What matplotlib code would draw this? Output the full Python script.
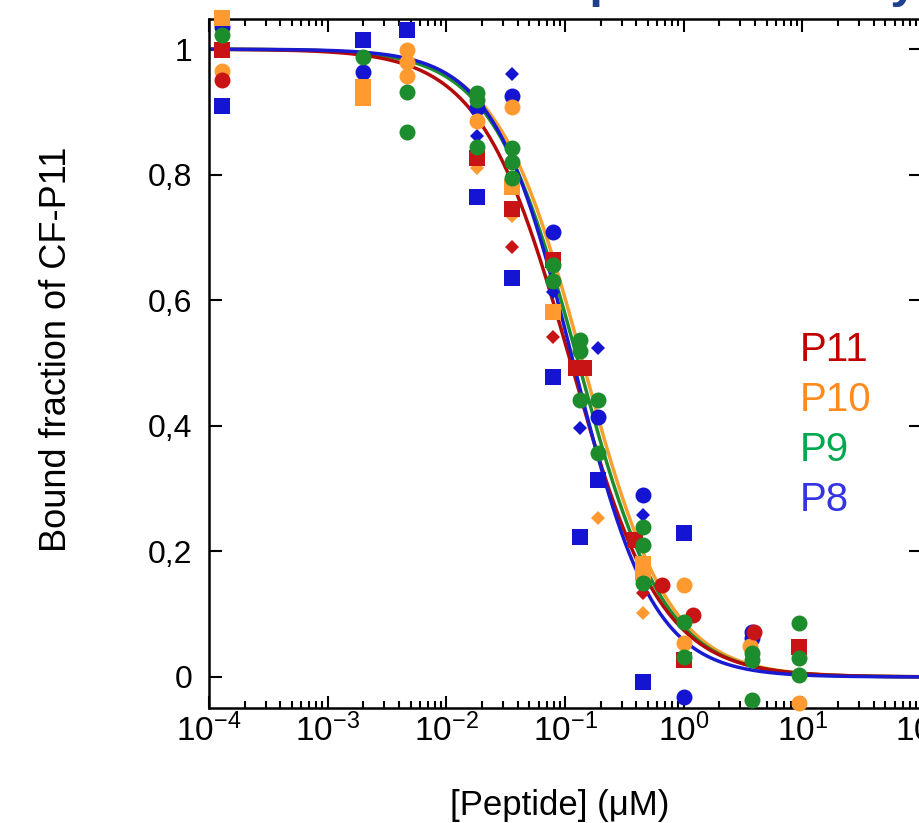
import numpy as np
import matplotlib
matplotlib.use("Agg")
import matplotlib.pyplot as plt
from matplotlib.ticker import FixedLocator, FixedFormatter, LogLocator, NullFormatter

plt.rcParams['font.family'] = ['Liberation Sans', 'DejaVu Sans']
plt.rcParams['mathtext.fontset'] = 'custom'
plt.rcParams['mathtext.rm'] = 'Liberation Sans'
plt.rcParams['mathtext.it'] = 'Liberation Sans:italic'
plt.rcParams['mathtext.bf'] = 'Liberation Sans:bold'

# ---------------- data ----------------
peptides = ["P11", "P10", "P9", "P8"]

# P11 (red)
p11_sq_x = [1.29e-4, 0.0181, 0.0359, 0.0795, 0.125, 0.145, 0.39, 1.0, 9.4]
p11_sq_y = [0.998, 0.826, 0.745, 0.664, 0.492, 0.492, 0.218, 0.027, 0.048]
p11_ci_x = [1.29e-4, 0.66, 1.2, 3.95]
p11_ci_y = [0.951, 0.146, 0.099, 0.072]
p11_di_x = [0.0359, 0.0795, 0.457]
p11_di_y = [0.685, 0.541, 0.134]

# P10 (orange)
p10_sq_x = [1.29e-4, 2.0e-3, 2.0e-3, 0.0359, 0.0795, 0.457, 0.457]
p10_sq_y = [1.05, 0.94, 0.922, 0.78, 0.581, 0.18, 0.165]
p10_ci_x = [1.29e-4, 4.67e-3, 4.67e-3, 4.67e-3, 0.0181, 0.0359, 1.0, 1.0, 3.6, 9.4]
p10_ci_y = [0.965, 0.998, 0.979, 0.957, 0.885, 0.908, 0.146, 0.054, 0.05, -0.041]
p10_di_x = [0.0181, 0.0359, 0.19, 0.457]
p10_di_y = [0.81, 0.735, 0.253, 0.102]

# P9 (green)
p9_ci_x = [1.29e-4, 2.0e-3, 4.67e-3, 4.67e-3, 0.0181, 0.0181, 0.0181, 0.0359, 0.0359,
           0.0359, 0.0795, 0.0795, 0.134, 0.134, 0.134, 0.19, 0.19, 0.457, 0.457,
           0.457, 1.0, 1.0, 3.79, 3.79, 3.79, 9.4, 9.4, 9.4]
p9_ci_y = [1.022, 0.987, 0.932, 0.868, 0.93, 0.919, 0.844, 0.842, 0.82,
           0.795, 0.656, 0.63, 0.537, 0.52, 0.441, 0.441, 0.357, 0.239, 0.21,
           0.15, 0.088, 0.032, 0.038, 0.027, -0.037, 0.086, 0.03, 0.003]

# P8 (blue)
p8_sq_x = [1.29e-4, 2.0e-3, 4.67e-3, 0.0181, 0.0359, 0.0795, 0.134, 0.19, 0.457, 1.0]
p8_sq_y = [0.909, 1.014, 1.03, 0.765, 0.635, 0.478, 0.223, 0.314, -0.008, 0.229]
p8_ci_x = [1.29e-4, 2.0e-3, 0.0181, 0.0359, 0.0795, 0.19, 0.457, 1.0, 3.79, 3.79]
p8_ci_y = [1.035, 0.963, 0.906, 0.925, 0.708, 0.414, 0.29, -0.032, 0.072, 0.062]
p8_di_x = [0.0181, 0.0359, 0.0795, 0.134, 0.19, 0.457]
p8_di_y = [0.861, 0.96, 0.613, 0.397, 0.524, 0.258]

# fitted curves (IC50 in uM, Hill slope)
fit_ic50 = {"P11": 0.112, "P10": 0.142, "P9": 0.13, "P8": 0.118}
fit_hill = {"P11": 1.15, "P10": 1.2, "P9": 1.2, "P8": 1.3}

x_ticks = [1e-4, 1e-3, 1e-2, 1e-1, 1e0, 1e1, 1e2]
x_ticklabels = [r"$\mathdefault{10^{-4}}$", r"$\mathdefault{10^{-3}}$", r"$\mathdefault{10^{-2}}$",
                r"$\mathdefault{10^{-1}}$", r"$\mathdefault{10^{0}}$", r"$\mathdefault{10^{1}}$",
                r"$\mathdefault{10^{2}}$"]
y_ticks = [0, 0.2, 0.4, 0.6, 0.8, 1.0]
y_ticklabels = ["0", "0,2", "0,4", "0,6", "0,8", "1"]

# ---------------- style ----------------
mk_col = {"P11": "#c81414", "P10": "#ff9a30", "P9": "#1c8c2c", "P8": "#1414d2"}
ln_col = {"P11": "#b40a0a", "P10": "#f5a030", "P9": "#1c8c2c", "P8": "#1a1ad0"}
tx_col = {"P11": "#c00000", "P10": "#ff8a1e", "P9": "#00a84f", "P8": "#3434e0"}

fig = plt.figure(figsize=(9.2, 8.23), dpi=100)
W, H = 920, 823
ax = fig.add_axes([209 / W, 1 - 708 / H, (921 - 209) / W, (708 - 19) / H])
ax.set_xscale("log")
ax.set_xlim(1e-4, 1e2)
ax.set_ylim(-0.0494, 1.048)

xf = np.logspace(-4, 2, 500)
for name in ["P10", "P9", "P11", "P8"]:
    yf = 1.0 / (1.0 + (xf / fit_ic50[name]) ** fit_hill[name])
    ax.plot(xf, yf, color=ln_col[name], lw=2.5, zorder=2)

ms_c, ms_s, ms_d = 11.5, 11.0, 7.6
series = [
    ("P8", [(p8_sq_x, p8_sq_y, "s", ms_s), (p8_ci_x, p8_ci_y, "o", ms_c), (p8_di_x, p8_di_y, "D", ms_d)]),
    ("P10", [(p10_sq_x, p10_sq_y, "s", ms_s), (p10_ci_x, p10_ci_y, "o", ms_c), (p10_di_x, p10_di_y, "D", ms_d)]),
    ("P11", [(p11_sq_x, p11_sq_y, "s", ms_s), (p11_ci_x, p11_ci_y, "o", ms_c), (p11_di_x, p11_di_y, "D", ms_d)]),
    ("P9", [(p9_ci_x, p9_ci_y, "o", ms_c)]),
]
z = 3
for name, groups in series:
    for xs, ys, m, ms in groups:
        ax.plot(xs, ys, linestyle="none", marker=m, ms=ms, color=mk_col[name],
                markeredgewidth=0, zorder=z, clip_on=False)
    z += 0.1

ax.xaxis.set_major_locator(FixedLocator(x_ticks))
ax.xaxis.set_major_formatter(FixedFormatter(x_ticklabels))
ax.xaxis.set_minor_locator(LogLocator(base=10, subs=np.arange(2, 10), numticks=20))
ax.xaxis.set_minor_formatter(NullFormatter())
ax.yaxis.set_major_locator(FixedLocator(y_ticks))
ax.yaxis.set_major_formatter(FixedFormatter(y_ticklabels))

for s in ax.spines.values():
    s.set_linewidth(1.8)
ax.tick_params(which="both", direction="in", top=True, right=True, width=1.5)
ax.tick_params(which="major", length=9)
ax.tick_params(which="minor", length=5)
ax.tick_params(axis="y", labelsize=23, pad=12)
ax.tick_params(axis="x", labelsize=24, pad=4)

ax.set_ylabel("Bound fraction of CF-P11", fontsize=26)
ax.yaxis.set_label_coords(-0.19, 0.52)
ax.set_xlabel("[Peptide] (\u03bcM)", fontsize=25, va="top")
ax.xaxis.set_label_coords(0.493, -0.118)

for i, name in enumerate(peptides):
    fig.text(800 / W, 1 - (350 + 50 * i) / H, name, color=tx_col[name], fontsize=29,
             va="center", ha="left")

# title of the original slide, almost entirely above the visible area
fig.text(480 / W, 1 + 3 / H, "Competition assay", color="#1f3f8f", fontsize=35.5,
         fontweight="bold", va="baseline", ha="left")

fig.savefig("out.png", dpi=100)
